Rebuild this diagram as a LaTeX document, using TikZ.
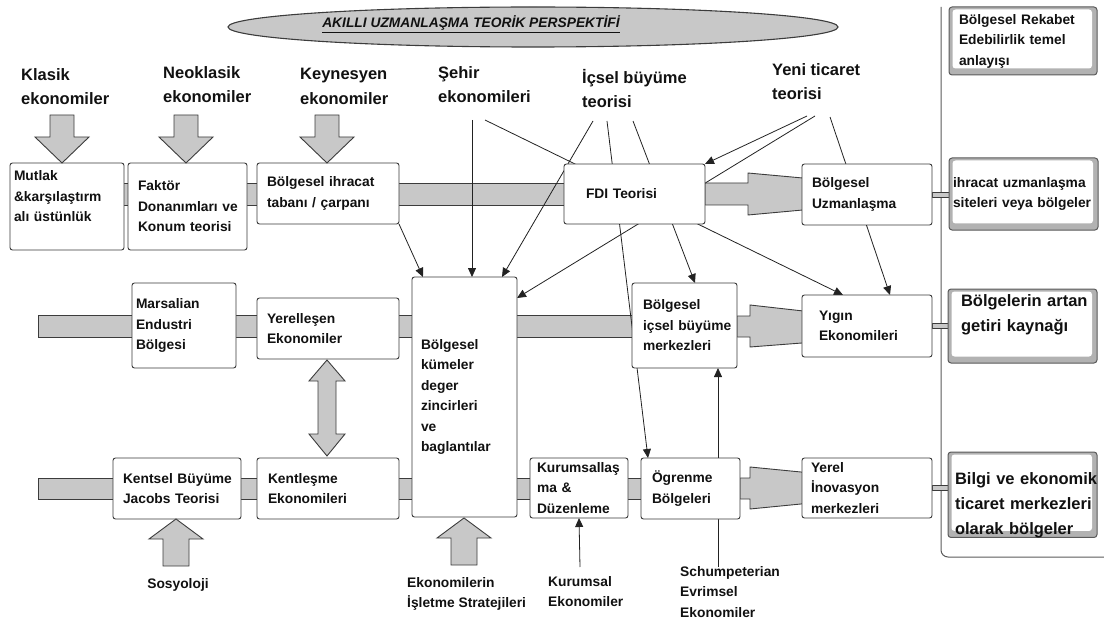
\documentclass[tikz,border=0pt]{standalone}
\usepackage{fontspec}
\setmainfont{Liberation Sans}
\usetikzlibrary{arrows.meta,shapes.geometric}
\definecolor{barfill}{HTML}{C8C8C8}
\definecolor{edge}{HTML}{3C3C3C}
\definecolor{boxline}{HTML}{3A3A3A}
\definecolor{ink}{HTML}{111111}
\definecolor{framefill}{HTML}{B2B2B2}
\definecolor{frameline}{HTML}{5A5A5A}
\definecolor{wire}{HTML}{222222}
\newcommand\fntBox{\fontsize{13.8}{20.5}\selectfont\bfseries}
\newcommand\fntHead{\fontsize{16.5}{24.5}\selectfont\bfseries}
\newcommand\fntBig{\fontsize{16.5}{25}\selectfont\bfseries}
\newcommand\fntTitle{\fontsize{13.8}{16}\selectfont\bfseries\itshape}
% no word breaking inside the boxes
\lefthyphenmin=62
\righthyphenmin=62
\hyphenpenalty=10000
\exhyphenpenalty=10000
\pgfdeclarelayer{bg}
\pgfdeclarelayer{mid}
\pgfsetlayers{bg,mid,main}

\tikzset{
  downblk/.pic={\draw[bar] (-12,-48) -- (12,-48) -- (12,-26) -- (27,-26) -- (0,0) -- (-27,-26) -- (-12,-26) -- cycle;},
  upblk/.pic={\draw[bar] (0,0) -- (27,20) -- (13,20) -- (13,47) -- (-13,47) -- (-13,20) -- (-27,20) -- cycle;}
}

\begin{document}
\begin{tikzpicture}[x=1pt,y=-1pt,
  every node/.style={text=ink},
  box/.style={draw=boxline, fill=white, line width=0.9pt, rounded corners=2.5pt, anchor=north west,
    align=left, inner ysep=0pt, outer sep=0pt, font=\fntBox,
    execute at begin node={\lefthyphenmin=62\righthyphenmin=62\hyphenpenalty=10000}},
  rbox/.style={draw=frameline, fill=framefill, line width=1pt, rounded corners=3pt, anchor=north west,
    align=left, inner ysep=0pt, outer sep=0pt,
    execute at begin node={\lefthyphenmin=62\righthyphenmin=62\hyphenpenalty=10000},
    path picture={\fill[white] ([shift={(3.5pt,-2.5pt)}]path picture bounding box.north west)
      rectangle ([shift={(-5pt,6.5pt)}]path picture bounding box.south east);}},
  head/.style={anchor=north west, align=left, inner sep=0pt, font=\fntHead},
  foot/.style={anchor=north west, align=left, inner sep=0pt, font=\fntBox},
  bar/.style={draw=edge, fill=barfill, line width=0.9pt, line join=miter},
  con/.style={draw=wire, line width=0.8pt, -{Triangle[length=9pt,width=8pt]}},
  ln/.style={draw=wire, line width=0.8pt},
]
\useasboundingbox (0,0) rectangle (1104,623);

% title oval
\node[draw=edge, fill=barfill, ellipse, line width=1.1pt, minimum width=610pt, minimum height=40pt] (oval) at (533,27) {};
\node[font=\fntTitle, inner sep=0pt, anchor=base] (title) at (471,28) {\underline{AKILLI UZMANLAŞMA TEORİK PERSPEKTİFİ}};

% source disciplines
\node[head] (klasik) at (21,68) {Klasik\\ekonomiler};
\node[head] (neo) at (163,66) {Neoklasik\\ekonomiler};
\node[head] (keyn) at (300,68) {Keynesyen\\ekonomiler};
\node[head] (sehir) at (438,66) {Şehir\\ekonomileri};
\node[head] (icsel) at (582,69) {İçsel büyüme\\teorisi};
\node[head] (yeni) at (772,63) {Yeni ticaret\\teorisi};

% row 1
\node[box, minimum width=114pt, minimum height=87pt, inner xsep=4pt, text width=106pt] (mut) at (10,163) {Mutlak\\\&karşılaştırm\\alı~üstünlük\\\mbox{}};
\node[box, minimum width=119pt, minimum height=87pt, inner xsep=10pt, text width=99pt] (fak) at (128,163) {Faktör\\Donanımları~ve\\Konum~teorisi};
\node[box, minimum width=142pt, minimum height=61pt, inner xsep=10pt, text width=122pt] (ihr) at (257,163) {Bölgesel~ihracat\\tabanı~/~çarpanı};
\node[box, minimum width=141pt, minimum height=60pt, inner xsep=22pt, text width=97pt] (fdi) at (564,164) {FDI~Teorisi};
\node[box, minimum width=130pt, minimum height=61pt, inner xsep=10pt, text width=110pt] (uzm) at (802,164) {Bölgesel\\Uzmanlaşma};

% row 2
\node[box, minimum width=104pt, minimum height=85pt, inner xsep=4pt, text width=96pt] (mar) at (132,283) {Marsalian\\Endustri\\Bölgesi};
\node[box, minimum width=142pt, minimum height=61pt, inner xsep=10pt, text width=122pt] (yer) at (257,298) {Yerelleşen\\Ekonomiler};
\node[box, minimum width=105pt, minimum height=240pt, inner xsep=9pt, text width=87pt] (kum) at (412,277) {Bölgesel\\kümeler\\deger\\zincirleri\\ve\\baglantılar};
\node[box, minimum width=105pt, minimum height=85pt, inner xsep=11pt, text width=83pt] (icb) at (632,283) {Bölgesel\\içsel~büyüme\\merkezleri};
\node[box, minimum width=130pt, minimum height=62pt, inner xsep=17pt, text width=96pt] (yig) at (802,295) {Yıgın\\Ekonomileri};

% row 3
\node[box, minimum width=128pt, minimum height=61pt, inner xsep=10pt, text width=108pt] (ken) at (113,458) {Kentsel~Büyüme\\Jacobs~Teorisi};
\node[box, minimum width=142pt, minimum height=61pt, inner xsep=11pt, text width=120pt] (kle) at (257,458) {Kentleşme\\Ekonomileri};
\node[box, minimum width=98pt, minimum height=60pt, inner xsep=7pt, text width=84pt] (kur) at (530,458) {Kurumsallaş\\ma~\&\\Düzenleme};
\node[box, minimum width=99pt, minimum height=61pt, inner xsep=11pt, text width=77pt] (ogr) at (641,458) {Ögrenme\\Bölgeleri};
\node[box, minimum width=130pt, minimum height=60pt, inner xsep=9pt, text width=112pt] (yrl) at (802,458) {Yerel\\İnovasyon\\merkezleri};

% outcome panel
\node[rbox, font=\fntBox, minimum width=148pt, minimum height=68pt, inner xsep=10pt, text width=128pt] (r1) at (949,7) {Bölgesel~Rekabet\\Edebilirlik~temel\\anlayışı};
\node[rbox, font=\fntBox, minimum width=149pt, minimum height=72pt, inner xsep=4pt, text width=141pt] (r2) at (949,158) {ihracat~uzmanlaşma\\siteleri~veya~bölgeler};
\node[rbox, font=\fntBig, minimum width=149pt, minimum height=74pt, inner xsep=13pt, text width=123pt] (r3) at (948,289) {Bölgelerin~artan\\getiri~kaynağı\\\mbox{}};
\node[rbox, font=\fntBig, minimum width=149pt, minimum height=73pt, inner xsep=7pt, text width=135pt] (r4) at (948,452) {\mbox{}\\[7pt]Bilgi~ve~ekonomik\\ticaret~merkezleri\\olarak~bölgeler};

% lower sources
\node[font=\fntBox, inner sep=0pt, anchor=base] (sos) at (178,588) {Sosyoloji};
\node[foot] (eko) at (407,577) {Ekonomilerin\\İşletme Stratejileri};
\node[foot] (kurl) at (548,576) {Kurumsal\\Ekonomiler};
\node[foot] (schum) at (680,566) {Schumpeterian\\Evrimsel\\Ekonomiler};

% broad flows
\begin{pgfonlayer}{bg}
  \draw[draw=frameline, line width=1pt, rounded corners=7pt] (941,7) -- (941,557) -- (1115,557);
  \draw[bar] (mut.center |- 0,183) rectangle (fdi.center |- 0,205);
  \draw[bar] (38,315) rectangle (icb.center |- 0,337);
  \draw[bar] (38,478) rectangle (ogr.center |- 0,499);
  \draw[bar] (fdi.east |- 0,183) -- (748,183) -- (748,173) -- (806,178.3) -- (806,209.7) -- (748,215) -- (748,205) -- (fdi.east |- 0,205) -- cycle;
  \draw[bar] (icb.east |- 0,316) -- (750,316) -- (750,305) -- (806,311.3) -- (806,342.7) -- (750,347) -- (750,337) -- (icb.east |- 0,337) -- cycle;
  \draw[bar] (ogr.east |- 0,478) -- (750,478) -- (750,467) -- (806,472.5) -- (806,503.5) -- (750,509) -- (750,499) -- (ogr.east |- 0,499) -- cycle;
  \draw[bar, line width=0.7pt] (uzm.east) ++(0,-2.5) rectangle ++(17,5);
  \draw[bar, line width=0.7pt] (yig.east) ++(0,-2.5) rectangle ++(16,5);
  \draw[bar, line width=0.7pt] (yrl.east) ++(0,-2.5) rectangle ++(16,5);
\end{pgfonlayer}

% influence lines
\coordinate (sh1) at (472,120);
\coordinate (sh2) at (485,120);
\coordinate (ic1) at (593,121);
\coordinate (ic2) at (607,121);
\coordinate (ic3) at (633,121);
\coordinate (yt1) at (807,116);
\coordinate (yt2) at (815,116);
\coordinate (yt3) at (830,117);
\coordinate (ku1) at (580,567);
\coordinate (sc1) at (718,567);
\begin{pgfonlayer}{mid}
  \draw[con] (sh1) -- (472,0 |- kum.north);
  \draw[con] (sh2) -- (843,0 |- yig.north);
  \draw[con] (ic1) -- (502,0 |- kum.north);
  \draw[con] (ic2) -- (648,0 |- ogr.north);
  \draw[con] (ic3) -- (695,0 |- icb.north);
  \draw[con] (yt1) -- (fdi.north east);
  \draw[con] (yt2) -- (kum.east |- 0,298);
  \draw[con] (yt3) -- (890,0 |- yig.north);
  \draw[con] (ihr.south east) -- (423,0 |- kum.north);
  \draw[con] (ku1) -- (kur.south);
  \draw[con] (sc1) -- (718,0 |- icb.south);
\end{pgfonlayer}

% block arrows
\pic at (62,163) {downblk};
\pic at (186,163) {downblk};
\pic at (327,163) {downblk};
\pic at (176,519) {upblk};
\pic at (464,518) {upblk};
\draw[bar] (327,360) -- (345,381) -- (336,381) -- (336,434) -- (345,434) -- (327,456) -- (309,434) -- (318,434) -- (318,381) -- (309,381) -- cycle;

\end{tikzpicture}
\end{document}
